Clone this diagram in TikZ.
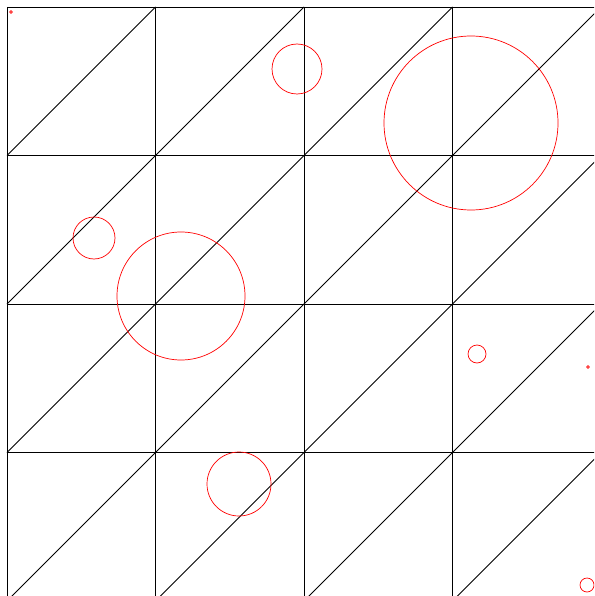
\documentclass[tikz,border=0pt]{standalone}
\usepackage{tikz}
\usetikzlibrary{calc}

\begin{document}
\begin{tikzpicture}[x=1pt, y=-1pt, line width=0.9pt]
        % Khung hình (kích thước theo pixel)
        \useasboundingbox (0,0) rectangle (594,596);
        \clip (0,0) rectangle (594,596);

        % Định nghĩa góc lưới và cạnh ô
        \coordinate (O) at (7,7);
        \def\cell{148.5}

        % Vẽ lưới ô vuông
        \foreach \i in {0,...,4} {
            \draw ($(O)+(\i*\cell,0)$) -- ($(O)+(\i*\cell,4*\cell)$);
            \draw ($(O)+(0,\i*\cell)$) -- ($(O)+(4*\cell,\i*\cell)$);
        }

        % Vẽ các đường chéo trong từng ô (từ góc dưới trái lên góc trên phải)
        \foreach \i in {0,...,3} {
            \foreach \j in {0,...,3} {
                \draw ($(O)+(\i*\cell,\j*\cell+\cell)$) -- ($(O)+(\i*\cell+\cell,\j*\cell)$);
            }
        }

        % Vẽ các đường tròn màu đỏ
        \draw[red, line width=0.7pt] (11,12) circle (1.3);
        \draw[red, line width=0.7pt] (297,69) circle (25);
        \draw[red, line width=0.7pt] (471,123) circle (87);
        \draw[red, line width=0.7pt] (94,238) circle (21);
        \draw[red, line width=0.7pt] (181,296) circle (64);
        \draw[red, line width=0.7pt] (477,354) circle (9);
        \draw[red, line width=0.7pt] (588,367) circle (1.3);
        \draw[red, line width=0.7pt] (239,484) circle (32);
        \draw[red, line width=0.7pt] (587,585) circle (7);

    \end{tikzpicture}
\end{document}
